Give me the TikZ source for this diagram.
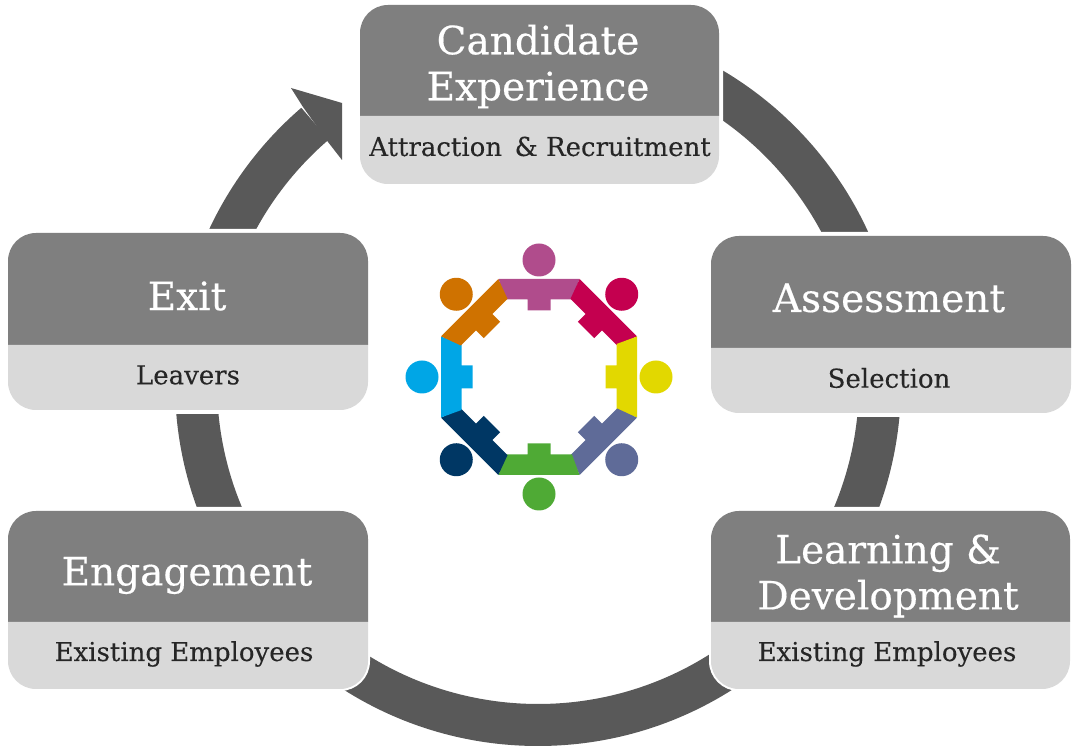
\documentclass[tikz,border=0pt]{standalone}
\usepackage{fontspec}
\setmainfont{DejaVu Serif}
\newfontfamily\titlefont[FakeBold=0.4]{DejaVu Serif}
\newfontfamily\subfont[FakeBold=0.15]{DejaVu Serif}
\tikzset{
  ringpart/.style={fill=ringgray, draw=none},
  stagehalo/.style={draw=white, line width=8pt},
  stagetop/.style={fill=topgray, draw=none},
  stagelow/.style={fill=lowgray, draw=none},
  stagetitle/.style={text=white, font=\titlefont\fontsize{39}{46}\selectfont, align=center, inner sep=0pt},
  stagesub/.style={text=subgray, font=\subfont\fontsize{26}{30}\selectfont, inner sep=0pt},
}
\definecolor{ringgray}{HTML}{595959}
\definecolor{topgray}{HTML}{7F7F7F}
\definecolor{lowgray}{HTML}{D9D9D9}
\definecolor{subgray}{HTML}{262626}
\begin{document}
\begin{tikzpicture}[x=1pt,y=1pt]
\useasboundingbox (0,0) rectangle (1072,747);

% ring and arrow head
\fill[ringpart] (538,364) ++(90:363) arc [start angle=90, end angle=-229.3, radius=363]
  -- ++(-229.3:-42) arc [start angle=-229.3, end angle=90, radius=321] -- cycle;
\fill[ringpart] (303,640) -- (291,659) -- (342,644) -- (342,587) -- (328,605) -- cycle;

% people
\foreach \col [count=\i] in {B04C8C,C4004F,E2D800,5F6B98,4FAA35,003764,00A6E6,CF7200}{
  \definecolor{person}{HTML}{\col}
  \begin{scope}[shift={(539,370)},rotate=45-45*\i]
    \fill[person] (0,117) circle [radius=16.5];
    \fill[person] (-40.5,98) -- (40.5,98) -- (33,77.5) -- (11.5,77.5) -- (11.5,66.5)
      -- (-11.5,66.5) -- (-11.5,77.5) -- (-33,77.5) -- cycle;
  \end{scope}
}

% Candidate Experience
\draw[stagehalo] (360,631) [rounded corners=28] -- (360,742) -- (719,742) [sharp corners] -- (719,631);
\draw[stagehalo] (360,631) [rounded corners=28] -- (360,563) -- (719,563) [sharp corners] -- (719,631);
\fill[stagetop] (360,631) [rounded corners=28] -- (360,742) -- (719,742) [sharp corners] -- (719,631) -- cycle;
\fill[stagelow] (360,631) [rounded corners=28] -- (360,563) -- (719,563) [sharp corners] -- (719,631) -- cycle;
\node[stagetitle] (candidate) at (538,680.5) {Candidate\\Experience};
\node[stagesub] (attraction) at (540,600.5) {Attraction \,\& Recruitment};

% Exit
\draw[stagehalo] (8,402) [rounded corners=28] -- (8,514) -- (368,514) [sharp corners] -- (368,402);
\draw[stagehalo] (8,402) [rounded corners=28] -- (8,337) -- (368,337) [sharp corners] -- (368,402);
\fill[stagetop] (8,402) [rounded corners=28] -- (8,514) -- (368,514) [sharp corners] -- (368,402) -- cycle;
\fill[stagelow] (8,402) [rounded corners=28] -- (8,337) -- (368,337) [sharp corners] -- (368,402) -- cycle;
\node[stagetitle] (exit) at (187,451) {Exit};
\node[stagesub] (leavers) at (188,372) {Leavers};

% Assessment
\draw[stagehalo] (711,399) [rounded corners=28] -- (711,511) -- (1071,511) [sharp corners] -- (1071,399);
\draw[stagehalo] (711,399) [rounded corners=28] -- (711,334) -- (1071,334) [sharp corners] -- (1071,399);
\fill[stagetop] (711,399) [rounded corners=28] -- (711,511) -- (1071,511) [sharp corners] -- (1071,399) -- cycle;
\fill[stagelow] (711,399) [rounded corners=28] -- (711,334) -- (1071,334) [sharp corners] -- (1071,399) -- cycle;
\node[stagetitle] (assessment) at (889,449) {Assessment};
\node[stagesub] (selection) at (889,369) {Selection};

% Engagement
\draw[stagehalo] (8,125) [rounded corners=28] -- (8,236) -- (368,236) [sharp corners] -- (368,125);
\draw[stagehalo, line width=4pt] (8,125) [rounded corners=28] -- (8,58) -- (368,58) [sharp corners] -- (368,125);
\fill[stagetop] (8,125) [rounded corners=28] -- (8,236) -- (368,236) [sharp corners] -- (368,125) -- cycle;
\fill[stagelow] (8,125) [rounded corners=28] -- (8,58) -- (368,58) [sharp corners] -- (368,125) -- cycle;
\node[stagetitle] (engagement) at (187,171.5) {Engagement};
\node[stagesub] (employeesleft) at (184,93) {Existing Employees};

% Learning & Development
\draw[stagehalo] (711,125) [rounded corners=28] -- (711,236) -- (1070,236) [sharp corners] -- (1070,125);
\draw[stagehalo, line width=4pt] (711,125) [rounded corners=28] -- (711,58) -- (1070,58) [sharp corners] -- (1070,125);
\fill[stagetop] (711,125) [rounded corners=28] -- (711,236) -- (1070,236) [sharp corners] -- (1070,125) -- cycle;
\fill[stagelow] (711,125) [rounded corners=28] -- (711,58) -- (1070,58) [sharp corners] -- (1070,125) -- cycle;
\node[stagetitle] (learning) at (888,171) {Learning \&\\Development};
\node[stagesub] (employeesright) at (887,93) {Existing Employees};
\end{tikzpicture}
\end{document}
